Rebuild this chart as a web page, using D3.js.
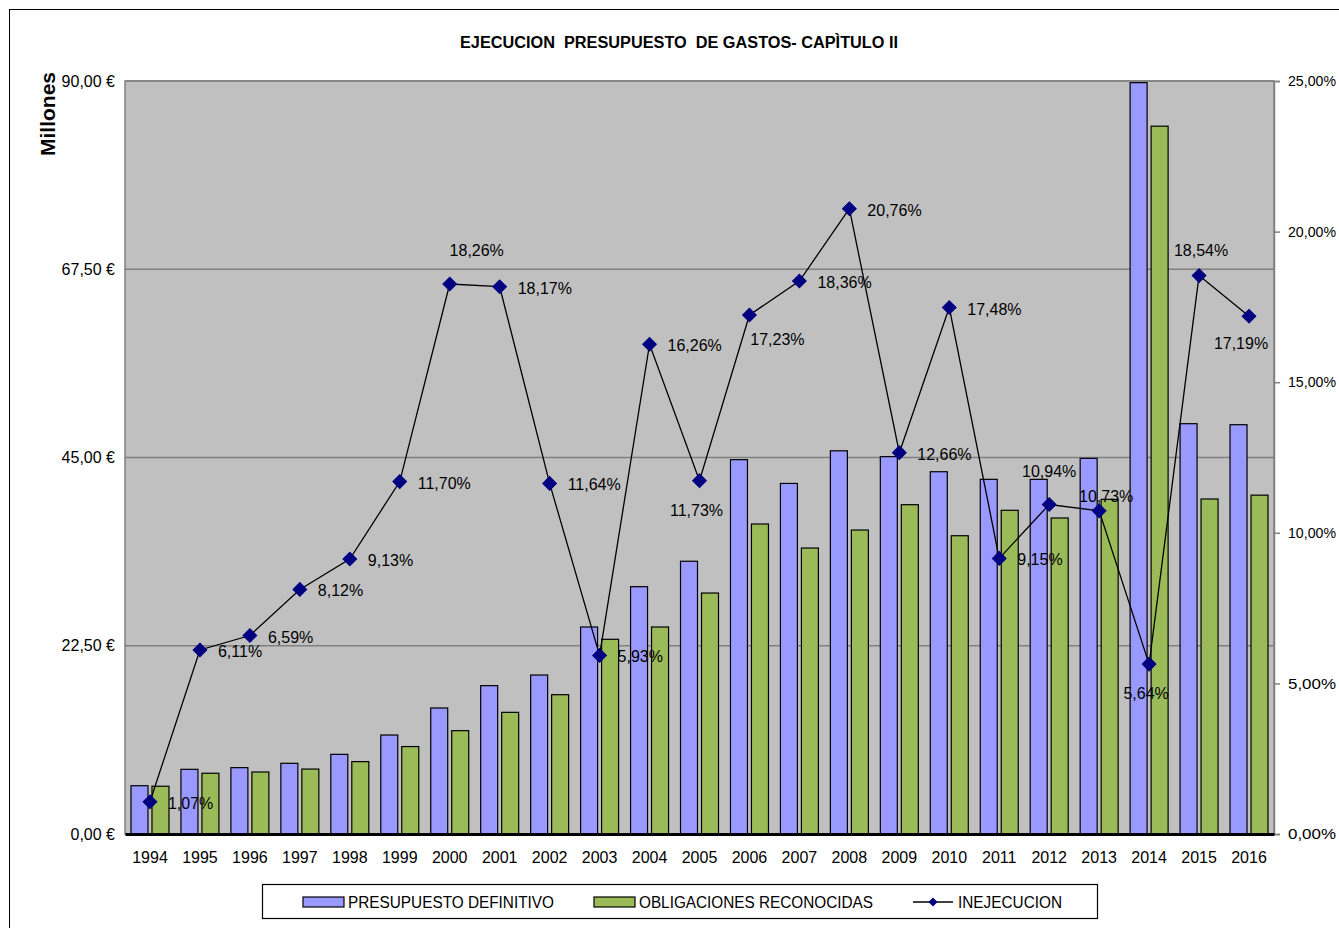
<!DOCTYPE html>
<html>
<head>
<meta charset="utf-8">
<script src="https://cdn.jsdelivr.net/npm/d3@7"></script>
<style>
  body { margin: 0; background: #fff; }
  svg { display: block; font-family: "Liberation Sans", Arial, sans-serif; }
</style>
</head>
<body>
<svg id="chart" width="1339" height="928"></svg>
<script>
const years = ["1994","1995","1996","1997","1998","1999","2000","2001","2002","2003","2004","2005","2006","2007","2008","2009","2010","2011","2012","2013","2014","2015","2016"];
const presupuesto = [5.77, 7.73, 7.93, 8.45, 9.52, 11.83, 15.06, 17.73, 19.0, 24.74, 29.56, 32.6, 44.74, 41.9, 45.8, 45.1, 43.3, 42.39, 42.39, 44.9, 89.8, 49.04, 48.92];
const obligaciones = [5.71, 7.26, 7.41, 7.76, 8.65, 10.45, 12.35, 14.54, 16.65, 23.27, 24.74, 28.8, 37.05, 34.18, 36.33, 39.36, 35.65, 38.69, 37.77, 40.0, 84.6, 40.04, 40.5];
const inejecucion = [1.07, 6.11, 6.59, 8.12, 9.13, 11.70, 18.26, 18.17, 11.64, 5.93, 16.26, 11.73, 17.23, 18.36, 20.76, 12.66, 17.48, 9.15, 10.94, 10.73, 5.64, 18.54, 17.19];
const labelPlacement = ["r","r","r","r","r","r","ar","r","r","r","r","b","br","r","r","r","r","r","a","as","b","a2","bl"];
const leftTicks = [0, 22.5, 45, 67.5, 90];
const rightTicks = [0, 5, 10, 15, 20, 25];
const seriesNames = ["PRESUPUESTO DEFINITIVO", "OBLIGACIONES RECONOCIDAS", "INEJECUCION"];
const title = "EJECUCION  PRESUPUESTO  DE GASTOS- CAPÌTULO II";

const svg = d3.select("#chart");
const P = { left: 125, right: 1274, top: 81, bottom: 834 };

const fmt2 = v => d3.format(".2f")(v).replace(".", ",");

// outer frame (right/bottom edges off canvas)
svg.append("rect").attr("x", 9.5).attr("y", 9.5).attr("width", 1400).attr("height", 1000)
  .attr("fill", "#fff").attr("stroke", "#000").attr("stroke-width", 1);

const x = d3.scaleBand().domain(years).range([P.left, P.right]).padding(0);
const xi = d3.scaleBand().domain(["p","o"]).range([0, x.bandwidth()]).paddingInner(0.19).paddingOuter(0.285);
const yL = d3.scaleLinear().domain([0, 90]).range([P.bottom, P.top]);
const yR = d3.scaleLinear().domain([0, 25]).range([P.bottom, P.top]);

// plot area
svg.append("rect").attr("x", P.left).attr("y", P.top).attr("width", P.right - P.left).attr("height", P.bottom - P.top)
  .attr("fill", "#C0C0C0").attr("stroke", "#808080").attr("stroke-width", 1.5);

// gridlines
svg.append("g").selectAll("line").data(leftTicks.filter(t => t > 0)).join("line")
  .attr("x1", P.left).attr("x2", P.right)
  .attr("y1", d => yL(d)).attr("y2", d => yL(d))
  .attr("stroke", "#808080").attr("stroke-width", 1.5);

// left axis
const gL = svg.append("g").attr("transform", `translate(${P.left},0)`)
  .call(d3.axisLeft(yL).tickValues(leftTicks).tickSize(0).tickPadding(10).tickFormat(d => fmt2(d) + " €"));
gL.select(".domain").remove();
gL.selectAll("text").attr("font-size", 16).attr("font-family", "Liberation Sans, Arial, sans-serif").attr("fill", "#000");

// right axis
const gR = svg.append("g").attr("transform", `translate(${P.right},0)`)
  .call(d3.axisRight(yR).tickValues(rightTicks).tickSize(6).tickPadding(8).tickFormat(d => fmt2(d) + "%"));
gR.select(".domain").attr("stroke", "#808080").attr("stroke-width", 1.5);
gR.selectAll(".tick line").attr("stroke", "#808080").attr("stroke-width", 1.5);
gR.selectAll("text").attr("font-size", 14.5).attr("font-family", "Liberation Sans, Arial, sans-serif").attr("fill", "#000")
  .attr("textLength", 48).attr("lengthAdjust", "spacingAndGlyphs");

// bars
const gBars = svg.append("g");
gBars.selectAll("rect.p").data(years).join("rect").attr("class", "p")
  .attr("x", d => x(d) + xi("p")).attr("width", xi.bandwidth())
  .attr("y", (d, i) => yL(presupuesto[i])).attr("height", (d, i) => yL(0) - yL(presupuesto[i]))
  .attr("fill", "#9999FF").attr("stroke", "#000").attr("stroke-width", 1.2);
gBars.selectAll("rect.o").data(years).join("rect").attr("class", "o")
  .attr("x", d => x(d) + xi("o")).attr("width", xi.bandwidth())
  .attr("y", (d, i) => yL(obligaciones[i])).attr("height", (d, i) => yL(0) - yL(obligaciones[i]))
  .attr("fill", "#9BBB59").attr("stroke", "#000").attr("stroke-width", 1.2);

// bottom axis
const gX = svg.append("g").attr("transform", `translate(0,${P.bottom})`)
  .call(d3.axisBottom(x).tickSize(0).tickPadding(18));
gX.select(".domain").attr("stroke", "#000").attr("stroke-width", 3);
gX.selectAll("text").attr("font-size", 16).attr("font-family", "Liberation Sans, Arial, sans-serif").attr("fill", "#000");

// line
const cx = d => x(d) + x.bandwidth() / 2;
const pts = years.map((d, i) => [cx(d), yR(inejecucion[i])]);
svg.append("path").attr("d", d3.line()(pts)).attr("fill", "none").attr("stroke", "#000").attr("stroke-width", 1.3);
svg.append("g").selectAll("path").data(pts).join("path")
  .attr("d", d3.symbol().type(d3.symbolSquare2).size(120)())
  .attr("transform", d => `translate(${d[0]},${d[1]}) rotate(45)`)
  .attr("fill", "#000080").attr("stroke", "#000080").attr("stroke-width", 1);

// data labels
const off = {
  r:  { dx: 18, dy: 7, anchor: "start" },
  a:  { dx: 0, dy: -27, anchor: "middle" },
  a2: { dx: 2, dy: -20, anchor: "middle" },
  as: { dx: 7, dy: -9, anchor: "middle" },
  ar: { dx: 27, dy: -28, anchor: "middle" },
  b:  { dx: -3, dy: 35, anchor: "middle" },
  br: { dx: 28, dy: 30, anchor: "middle" },
  bl: { dx: -8, dy: 33, anchor: "middle" }
};
svg.append("g").selectAll("text").data(pts).join("text")
  .attr("x", (d, i) => d[0] + off[labelPlacement[i]].dx)
  .attr("y", (d, i) => d[1] + off[labelPlacement[i]].dy)
  .attr("text-anchor", (d, i) => off[labelPlacement[i]].anchor)
  .attr("font-size", 16).attr("fill", "#000")
  .text((d, i) => fmt2(inejecucion[i]) + "%");

// title
svg.append("text").attr("x", 679).attr("y", 48).attr("text-anchor", "middle")
  .attr("font-size", 16).attr("font-weight", "bold").attr("fill", "#000")
  .attr("textLength", 438).attr("lengthAdjust", "spacingAndGlyphs")
  .style("white-space", "pre").text(title);

// y title
svg.append("text").attr("transform", "translate(55,114) rotate(-90)").attr("text-anchor", "middle")
  .attr("font-size", 21).attr("font-weight", "bold").attr("fill", "#000").text("Millones");

// legend
const lg = svg.append("g");
lg.append("rect").attr("x", 262.5).attr("y", 884.5).attr("width", 835).attr("height", 34)
  .attr("fill", "#fff").attr("stroke", "#000").attr("stroke-width", 1.2);
const ly = 902;
lg.append("rect").attr("x", 303).attr("y", ly - 5).attr("width", 41).attr("height", 10)
  .attr("fill", "#9999FF").attr("stroke", "#000").attr("stroke-width", 1.2);
lg.append("text").attr("x", 348).attr("y", ly + 6).attr("font-size", 16).attr("textLength", 206).attr("lengthAdjust", "spacingAndGlyphs").text(seriesNames[0]);
lg.append("rect").attr("x", 594).attr("y", ly - 5).attr("width", 41).attr("height", 10)
  .attr("fill", "#9BBB59").attr("stroke", "#000").attr("stroke-width", 1.2);
lg.append("text").attr("x", 639).attr("y", ly + 6).attr("font-size", 16).attr("textLength", 234).attr("lengthAdjust", "spacingAndGlyphs").text(seriesNames[1]);
lg.append("line").attr("x1", 913).attr("x2", 953).attr("y1", ly).attr("y2", ly).attr("stroke", "#000").attr("stroke-width", 1.3);
lg.append("path").attr("transform", `translate(933,${ly}) rotate(45)`).attr("d", d3.symbol().type(d3.symbolSquare2).size(36)())
  .attr("fill", "#000080").attr("stroke", "#000080");
lg.append("text").attr("x", 958).attr("y", ly + 6).attr("font-size", 16).attr("textLength", 104).attr("lengthAdjust", "spacingAndGlyphs").text(seriesNames[2]);
</script>
</body>
</html>
